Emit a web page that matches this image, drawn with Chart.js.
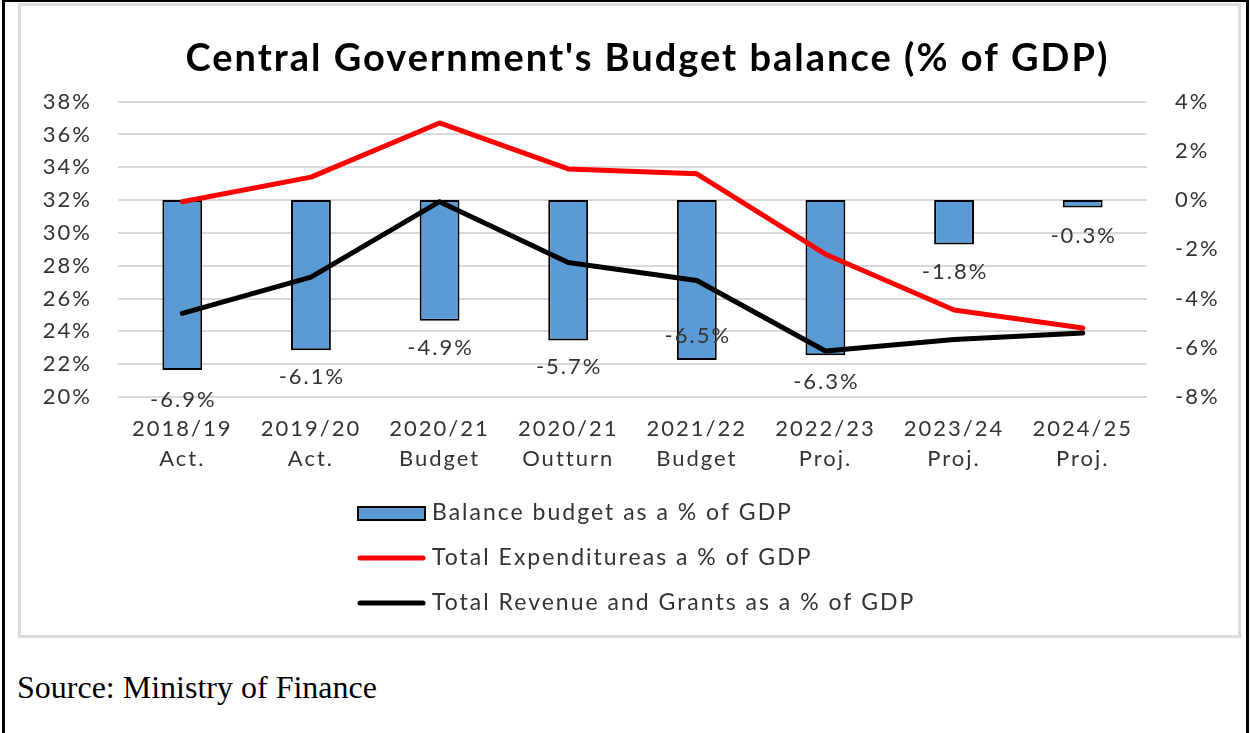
<!DOCTYPE html>
<html>
<head>
<meta charset="utf-8">
<script src="https://cdn.jsdelivr.net/npm/chart.js@4.4.1/dist/chart.umd.min.js"></script>
<style>
	body {
		margin: 0;
		background: #fff;
		width: 1250px;
		height: 733px;
		overflow: hidden;
		position: relative;
	}
	.page {
		position: absolute;
		left: 2px;
		top: 0;
		width: 1241px;
		height: 760px;
		border-left: 3px solid #000;
		border-top: 2px solid #000;
		border-right: 3px solid #000;
	}
	.frame {
		position: absolute;
		left: 18px;
		top: 3px;
		width: 1217px;
		height: 629px;
		border: 3px solid #dcdcdc;
		background: #fff;
	}
	#budgetChart {
		position: absolute;
		left: 0;
		top: 0;
	}
	.source {
		position: absolute;
		left: 17px;
		top: 669px;
		font-family: 'Liberation Serif', 'Times New Roman', serif;
		font-size: 32px;
		color: #000;
	}
</style>
</head>
<body>
<div class="page"></div>
<div class="frame">
	<canvas id="budgetChart" width="1217" height="629"></canvas>
</div>
<div class="source">Source: Ministry of Finance</div>

<script>
// Fiscal years shown on the x axis (two-line labels)
const years = [
	['2018/19', 'Act.'],
	['2019/20', 'Act.'],
	['2020/21', 'Budget'],
	['2020/21', 'Outturn'],
	['2021/22', 'Budget'],
	['2022/23', 'Proj.'],
	['2023/24', 'Proj.'],
	['2024/25', 'Proj.'],
];

// Budget balance, % of GDP (right axis)
const balance = [-6.9, -6.1, -4.9, -5.7, -6.5, -6.3, -1.8, -0.3];
// Expenditure and revenue, % of GDP (left axis)
const expenditure = [31.9, 33.4, 36.7, 33.9, 33.6, 28.7, 25.3, 24.2];
const revenue = [25.1, 27.3, 31.9, 28.2, 27.1, 22.8, 23.5, 23.9];

const seriesNames = [
	'Balance budget as a % of GDP',
	'Total Expenditureas a % of GDP',
	'Total Revenue and Grants as a % of GDP',
];

const leftTicks = {min: 20, max: 38, step: 2};
const rightTicks = {min: -8, max: 4, step: 2};

const fontFamily = 'Lato, "Open Sans", sans-serif';
const textColor = '#333333';
const barBlue = '#5B9BD5';

// Canvas letter spacing, so the text runs as wide as the original layout
const spacingPlugin = {
	id: 'spacing',
	beforeUpdate(chart) {
		chart.ctx.letterSpacing = '2px';
	},
	beforeDraw(chart) {
		chart.ctx.letterSpacing = '2px';
	},
};

// Value labels under the end of each balance bar
const barLabelsPlugin = {
	id: 'barLabels',
	afterDatasetsDraw(chart, args, opts) {
		const ctx = chart.ctx;
		const meta = chart.getDatasetMeta(0);
		ctx.save();
		ctx.font = `${opts.size}px ${fontFamily}`;
		ctx.fillStyle = textColor;
		ctx.textAlign = 'center';
		ctx.textBaseline = 'middle';
		meta.data.forEach((bar, i) => {
			const text = balance[i].toFixed(1) + '%';
			ctx.fillText(text, bar.x + 1, bar.y + opts.offsets[i]);
		});
		ctx.restore();
	},
};

// Stacked legend below the x axis
const stackedLegendPlugin = {
	id: 'stackedLegend',
	afterDraw(chart, args, opts) {
		const ctx = chart.ctx;
		ctx.save();
		ctx.font = `${opts.size}px ${fontFamily}`;
		ctx.textBaseline = 'middle';
		ctx.textAlign = 'left';
		chart.data.datasets.forEach((ds, i) => {
			const y = opts.top + i * opts.rowGap;
			const x0 = opts.left;
			const x1 = opts.left + opts.swatch;
			if (ds.type === 'bar') {
				ctx.fillStyle = ds.backgroundColor;
				ctx.fillRect(x0, y - 6, x1 - x0, 13);
				ctx.strokeStyle = ds.borderColor;
				ctx.lineWidth = 2;
				ctx.strokeRect(x0, y - 6, x1 - x0, 13);
			} else {
				ctx.strokeStyle = ds.borderColor;
				ctx.lineWidth = 5;
				ctx.lineCap = 'round';
				ctx.beginPath();
				ctx.moveTo(x0 + 2, y);
				ctx.lineTo(x1 - 2, y);
				ctx.stroke();
			}
			ctx.fillStyle = textColor;
			ctx.fillText(ds.label, x1 + 7, y);
		});
		ctx.restore();
	},
};

const ctx = document.getElementById('budgetChart');

new Chart(ctx, {
	data: {
		labels: years,
		datasets: [
			{
				type: 'bar',
				label: seriesNames[0],
				data: balance,
				yAxisID: 'y1',
				backgroundColor: barBlue,
				borderColor: '#000000',
				borderWidth: 2,
				borderSkipped: false,
				barPercentage: 0.31,
				categoryPercentage: 1,
				order: 3,
			},
			{
				type: 'line',
				label: seriesNames[1],
				data: expenditure,
				yAxisID: 'y',
				borderColor: '#FF0000',
				borderWidth: 5,
				borderCapStyle: 'round',
				borderJoinStyle: 'round',
				pointRadius: 0,
				tension: 0,
				order: 2,
			},
			{
				type: 'line',
				label: seriesNames[2],
				data: revenue,
				yAxisID: 'y',
				borderColor: '#000000',
				borderWidth: 5,
				borderCapStyle: 'round',
				borderJoinStyle: 'round',
				pointRadius: 0,
				tension: 0,
				order: 1,
			},
		],
	},
	options: {
		responsive: false,
		animation: false,
		devicePixelRatio: 1,
		layout: {
			// right side runs past the canvas so the title sits a bit right of centre
			padding: {left: 0, right: -36, top: 0, bottom: 158},
		},
		plugins: {
			legend: {display: false},
			tooltip: {enabled: false},
			title: {
				display: true,
				text: "Central Government's Budget balance (% of GDP)",
				color: '#000000',
				font: {family: fontFamily, size: 38, weight: 'bold'},
				padding: {top: 30, bottom: 20},
			},
			barLabels: {
				size: 22,
				offsets: [30, 27, 27, 27, -24, 27, 28, 28],
			},
			stackedLegend: {
				size: 23,
				left: 337,
				top: 507,
				rowGap: 45,
				swatch: 67,
			},
		},
		scales: {
			x: {
				grid: {display: false},
				border: {display: false},
				ticks: {
					color: textColor,
					font: {family: fontFamily, size: 22, lineHeight: 1.36},
					padding: 9,
					maxRotation: 0,
					autoSkip: false,
				},
				afterFit(scale) {
					scale.height = 80;
				},
			},
			y: {
				position: 'left',
				min: leftTicks.min,
				max: leftTicks.max,
				grid: {color: '#d9d9d9', lineWidth: 2, drawTicks: false},
				border: {display: false},
				ticks: {
					stepSize: leftTicks.step,
					color: textColor,
					font: {family: fontFamily, size: 22},
					padding: 26,
					callback: (v) => v + '%',
				},
				afterFit(scale) {
					scale.width = 97;
				},
			},
			y1: {
				position: 'right',
				min: rightTicks.min,
				max: rightTicks.max,
				grid: {display: false, drawTicks: false},
				border: {display: false},
				ticks: {
					stepSize: rightTicks.step,
					color: textColor,
					font: {family: fontFamily, size: 22},
					padding: 28,
					callback: (v) => v + '%',
				},
				afterFit(scale) {
					scale.width = 127;
				},
			},
		},
	},
	plugins: [spacingPlugin, barLabelsPlugin, stackedLegendPlugin],
});
</script>
</body>
</html>
